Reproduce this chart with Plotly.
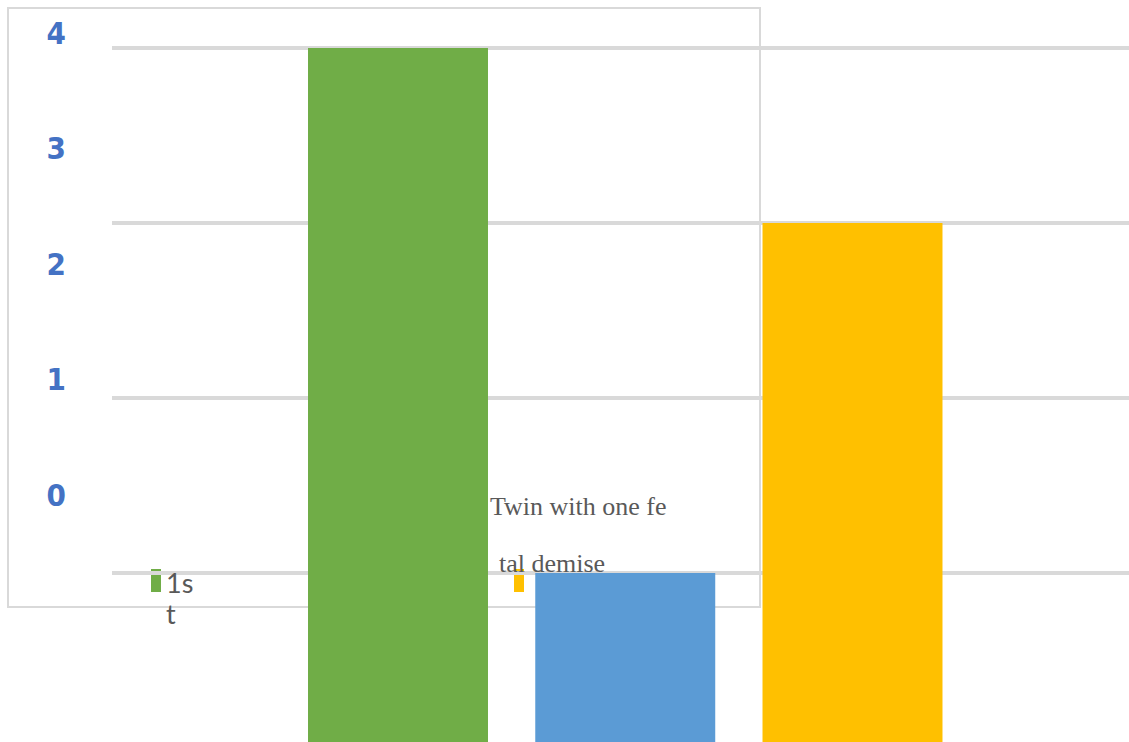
import plotly.graph_objects as go

# ---- data ----
categories = ["1st", "2nd", "Twin with one fetal demise"]
values = [4, 1, 3]
bar_colors = ["#70AD47", "#5B9BD5", "#FFC000"]
left_tick_values = [0, 1, 2, 3, 4]
left_tick_labels = ["0", "1", "2", "3", "4"]
grid_values = [1, 2, 3, 4]
legend_fragments = [("1s", "t"), ("Twin with one fe", "tal demise")]

W, H = 1129, 742

def px_x(p):
    return p / W

def px_y(p):
    return 1 - p / H

fig = go.Figure()
for cat, val, col in zip(categories, values, bar_colors):
    fig.add_trace(go.Bar(x=[cat], y=[val], marker=dict(color=col, line=dict(width=0)),
                         width=0.792, name=cat, showlegend=False, hoverinfo="skip"))

# invisible trace to carry the secondary left axis
fig.add_trace(go.Scatter(x=[categories[0]], y=[0], yaxis="y2", mode="markers",
                         marker=dict(opacity=0), showlegend=False, hoverinfo="skip"))

fig.update_layout(
    width=W, height=H,
    margin=dict(l=0, r=0, t=0, b=0),
    paper_bgcolor="white", plot_bgcolor="white",
    showlegend=False,
    xaxis=dict(domain=[112 / W, 1], type="category", range=[-1.2585, 3.2167],
               showticklabels=False, showgrid=False, zeroline=False, showline=False, ticks=""),
    yaxis=dict(range=[0.0343, 4.274], tickvals=grid_values, showticklabels=False,
               showgrid=True, gridcolor="#D9D9D9", gridwidth=4, zeroline=False,
               showline=False, ticks=""),
    yaxis2=dict(overlaying="y", anchor="free", position=66 / W, side="left",
                range=[-2.139, 4.286], tickvals=left_tick_values, ticktext=left_tick_labels,
                showgrid=False, zeroline=False, showline=False, ticks="",
                tickfont=dict(family="Liberation Sans Narrow, DejaVu Sans Condensed, Arial Narrow",
                              size=31, color="#4472C4", weight="bold")),
)

# outer frame (below the bars)
fig.add_shape(type="rect", xref="paper", yref="paper",
              x0=px_x(8), x1=px_x(760), y0=px_y(607), y1=px_y(8),
              line=dict(color="#D9D9D9", width=2), layer="below")

# legend markers
fig.add_shape(type="rect", xref="paper", yref="paper",
              x0=px_x(151), x1=px_x(161), y0=px_y(592), y1=px_y(569),
              fillcolor=bar_colors[0], line=dict(width=0), layer="below")
fig.add_shape(type="rect", xref="paper", yref="paper",
              x0=px_x(514), x1=px_x(524), y0=px_y(592), y1=px_y(569),
              fillcolor=bar_colors[2], line=dict(width=0), layer="below")

# legend texts
sans = dict(family="Lato, Liberation Sans, sans-serif", size=27, color="#595959")
serif = dict(family="Liberation Serif, Times New Roman, serif", size=26, color="#595959")
texts = [
    (legend_fragments[0][0], 165, 582, sans),
    (legend_fragments[0][1], 165, 613, sans),
    (legend_fragments[1][0], 489, 506, serif),
    (legend_fragments[1][1], 498, 563, serif),
]
for t, x, y, f in texts:
    fig.add_annotation(text=t, xref="paper", yref="paper", x=px_x(x), y=px_y(y),
                       xanchor="left", yanchor="middle", showarrow=False,
                       font=f, borderpad=0)

fig.write_html("out.html")
